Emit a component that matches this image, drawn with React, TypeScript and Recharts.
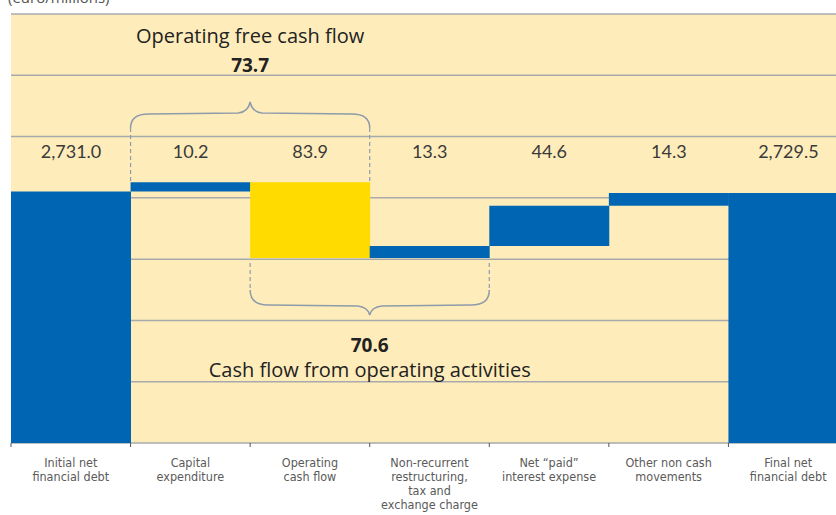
import React from 'react';
import { BarChart, Bar, XAxis, YAxis, CartesianGrid, Cell, LabelList, ReferenceArea } from 'recharts';

// ---------- data ----------
const CATEGORIES = [
  'Initial net\nfinancial debt',
  'Capital\nexpenditure',
  'Operating\ncash flow',
  'Non-recurrent\nrestructuring,\ntax and\nexchange charge',
  'Net “paid”\ninterest expense',
  'Other non cash\nmovements',
  'Final net\nfinancial debt',
];
const VALUES = [2731.0, 10.2, 83.9, 13.3, 44.6, 14.3, 2729.5];
const KINDS = ['total', 'up', 'down', 'up', 'up', 'up', 'total'];
const FREE_CASH_FLOW = 73.7;
const OPERATING_CASH_FLOW = 70.6;
const FREE_CASH_FLOW_TITLE = 'Operating free cash flow';
const OPERATING_CASH_FLOW_TITLE = 'Cash flow from operating activities';
const UNIT_NOTE = '(euro/millions)';
const Y_DOMAIN: [number, number] = [2452, 2928];
const Y_TICKS = [2452, 2520, 2588, 2656, 2724, 2792, 2860, 2928];

// ---------- style ----------
const CHART_W = 848;
const CHART_H = 515;
const MARGIN = { top: 14, right: 0, left: 11, bottom: 0 };
const BLUE = '#0066B3';
const YELLOW = '#FFDB00';
const CREAM = '#FEEDBB';
const GRID = '#A7AAAD';
const BRACE = '#8E9BAA';
const TITLE_FONT = '"Open Sans", "Noto Sans", sans-serif';
const NUM_FONT = 'Lato, "Open Sans", sans-serif';
const AXIS_FONT = '"Liberation Sans Narrow", "DejaVu Sans Condensed", "Roboto", sans-serif';

const fmt = (v: number) =>
  v.toLocaleString('en-US', { minimumFractionDigits: 1, maximumFractionDigits: 1 });

let running = 0;
const DATA = CATEGORIES.map((name, i) => {
  const v = VALUES[i];
  let range: [number, number];
  if (KINDS[i] === 'total') {
    range = [Y_DOMAIN[0], v];
    running = v;
  } else if (KINDS[i] === 'up') {
    range = [running, running + v];
    running += v;
  } else {
    range = [running - v, running];
    running -= v;
  }
  return { name, range, label: fmt(v), kind: KINDS[i] };
});

const PLOT_W = CHART_W - MARGIN.left - MARGIN.right;
const BAND = PLOT_W / CATEGORIES.length;

const CatTick = (props: any) => {
  const { x, y, payload } = props;
  const lines = String(payload.value).split('\n');
  return (
    <g>
      <line x1={x - BAND / 2} x2={x - BAND / 2} y1={y} y2={y + 4} stroke="#555" strokeWidth={1} />
      <text
        x={x}
        y={y + 24}
        textAnchor="middle"
        fontFamily={AXIS_FONT}
        fontSize={12.5}
        fill="#5a5a5a"
      >
        {lines.map((l, i) => (
          <tspan key={i} x={x} dy={i === 0 ? 0 : 14}>
            {l}
          </tspan>
        ))}
      </text>
    </g>
  );
};

const ValueLabel = (props: any) => {
  const { x, width, value } = props;
  return (
    <text
      x={x + width / 2}
      y={158}
      textAnchor="middle"
      fontFamily={NUM_FONT}
      fontWeight={400}
      fontSize={18}
      fill="#3a3a3a"
    >
      {value}
    </text>
  );
};

const TopBrace = (props: any) => {
  const { x, y, width, height } = props;
  const x0 = x;
  const x1 = x + width;
  const mid = x + width / 2;
  const barTop = y + height;
  const end = 128;
  const d = `M ${x0} ${end} Q ${x0} 114 ${x0 + 18} 114 L ${mid - 12} 113 Q ${mid - 2} 112 ${mid} 102 Q ${mid + 2} 112 ${mid + 12} 113 L ${x1 - 18} 114 Q ${x1} 114 ${x1} ${end}`;
  return (
    <g>
      <path d={d} fill="none" stroke={BRACE} strokeWidth={1.5} />
      <line x1={x0} x2={x0} y1={end} y2={barTop} stroke={BRACE} strokeWidth={1.2} strokeDasharray="4 3" />
      <line x1={x1} x2={x1} y1={end} y2={barTop} stroke={BRACE} strokeWidth={1.2} strokeDasharray="4 3" />
      <text x={mid} y={43} textAnchor="middle" fontFamily={TITLE_FONT} fontSize={20} fill="#222">
        {FREE_CASH_FLOW_TITLE}
      </text>
      <text x={mid} y={72} textAnchor="middle" fontFamily={TITLE_FONT} fontWeight={700} fontSize={19} fill="#222">
        {fmt(FREE_CASH_FLOW)}
      </text>
    </g>
  );
};

const BottomBrace = (props: any) => {
  const { x, y, width } = props;
  const x0 = x;
  const x1 = x + width;
  const mid = x + width / 2;
  const barBottom = y;
  const end = 290;
  const d = `M ${x0} ${end} Q ${x0} 305 ${x0 + 18} 305 L ${mid - 12} 306 Q ${mid - 2} 307 ${mid} 315 Q ${mid + 2} 307 ${mid + 12} 306 L ${x1 - 18} 305 Q ${x1} 305 ${x1} ${end}`;
  return (
    <g>
      <path d={d} fill="none" stroke={BRACE} strokeWidth={1.5} />
      <line x1={x0} x2={x0} y1={barBottom + 5} y2={end} stroke={BRACE} strokeWidth={1.2} strokeDasharray="4 3" />
      <line x1={x1} x2={x1} y1={barBottom + 5} y2={end} stroke={BRACE} strokeWidth={1.2} strokeDasharray="4 3" />
      <text x={mid} y={352} textAnchor="middle" fontFamily={TITLE_FONT} fontWeight={700} fontSize={19} fill="#222">
        {fmt(OPERATING_CASH_FLOW)}
      </text>
      <text x={mid} y={377} textAnchor="middle" fontFamily={TITLE_FONT} fontSize={20} fill="#222">
        {OPERATING_CASH_FLOW_TITLE}
      </text>
    </g>
  );
};

export default function App() {
  const capexTop = DATA[1].range[1];
  const ocfBottom = DATA[2].range[0];
  return (
    <div
      style={{
        position: 'fixed',
        left: 0,
        top: 0,
        width: 836,
        height: 515,
        overflow: 'hidden',
        background: '#fff',
      }}
    >
      <div
        style={{
          position: 'absolute',
          left: 8,
          top: -10,
          fontFamily: TITLE_FONT,
          fontSize: 15,
          lineHeight: '15px',
          color: '#555',
        }}
      >
        {UNIT_NOTE}
      </div>
      <BarChart
        width={CHART_W}
        height={CHART_H}
        data={DATA}
        margin={MARGIN}
        barCategoryGap={0}
        barGap={0}
      >
        <CartesianGrid
          vertical={false}
          horizontal
          horizontalValues={Y_TICKS}
          stroke={GRID}
          strokeWidth={1.5}
          fill={CREAM}
          fillOpacity={1}
        />
        <XAxis
          dataKey="name"
          interval={0}
          height={CHART_H - 443 - MARGIN.bottom}
          axisLine={false}
          tickLine={false}
          tickSize={0}
          tickMargin={0}
          tick={<CatTick />}
        />
        <YAxis hide type="number" domain={Y_DOMAIN} ticks={Y_TICKS} allowDataOverflow />
        <Bar dataKey="range" isAnimationActive={false}>
          {DATA.map((d, i) => (
            <Cell key={i} fill={d.kind === 'down' ? YELLOW : BLUE} />
          ))}
          <LabelList dataKey="label" content={<ValueLabel />} />
        </Bar>
        <ReferenceArea
          x1={CATEGORIES[1]}
          x2={CATEGORIES[2]}
          y1={capexTop}
          y2={Y_DOMAIN[1]}
          shape={(p: any) => <TopBrace {...p} />}
        />
        <ReferenceArea
          x1={CATEGORIES[2]}
          x2={CATEGORIES[3]}
          y1={Y_DOMAIN[0]}
          y2={ocfBottom}
          shape={(p: any) => <BottomBrace {...p} />}
        />
      </BarChart>
    </div>
  );
}
